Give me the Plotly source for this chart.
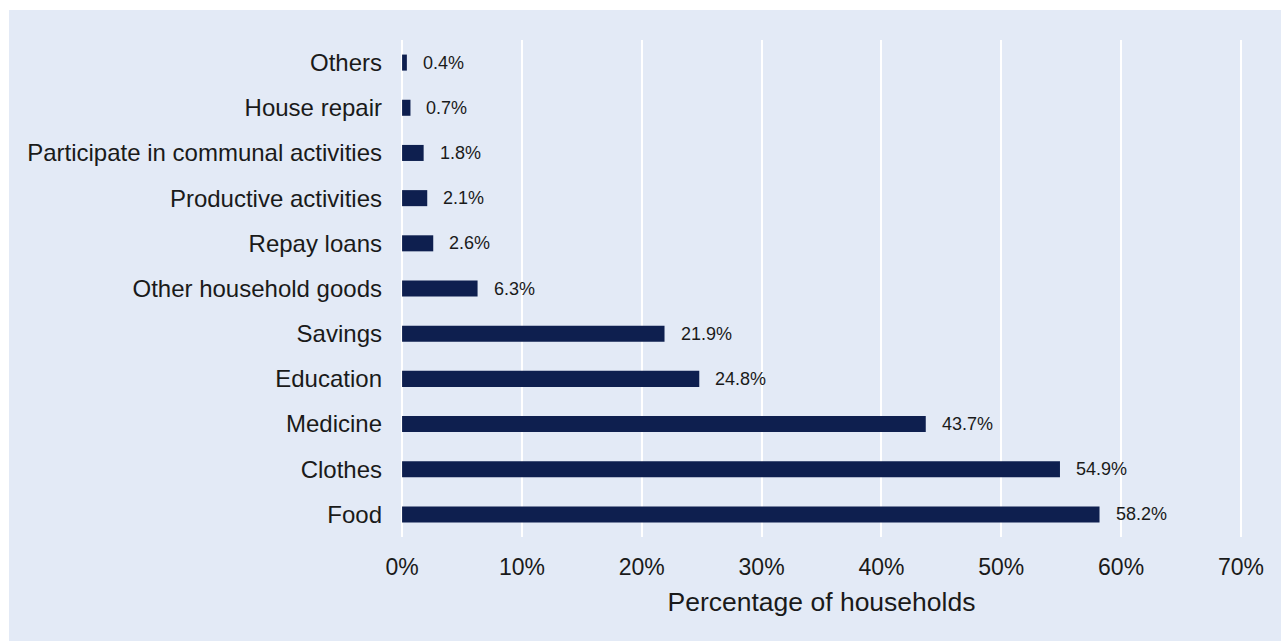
import plotly.graph_objects as go

categories = ["Food", "Clothes", "Medicine", "Education", "Savings",
              "Other household goods", "Repay loans", "Productive activities",
              "Participate in communal activities", "House repair", "Others"]
values = [58.2, 54.9, 43.7, 24.8, 21.9, 6.3, 2.6, 2.1, 1.8, 0.7, 0.4]
labels = [f"{v:.1f}%" for v in values]
x_ticks = [0, 10, 20, 30, 40, 50, 60, 70]
x_tick_text = [f"{t}%" for t in x_ticks]

BG = "#E3EAF6"
BAR = "#0E1F4F"
FONT = "Liberation Sans, Arial, sans-serif"

W, H = 1281, 641
L, R, T, B = 401, 39, 40, 104
pw, ph = W - L - R, H - T - B

fig = go.Figure()
fig.add_trace(go.Bar(
    y=categories, x=values, orientation="h",
    marker=dict(color=BAR, line=dict(width=0)),
    width=0.355, hoverinfo="skip",
))

for c, v, t in zip(categories, values, labels):
    fig.add_annotation(x=v, y=c, text=t, showarrow=False, xanchor="left",
                       yanchor="middle", xshift=14,
                       font=dict(family=FONT, size=18, color="#1a1a1a"))

# outer panel
fig.add_shape(type="rect", xref="paper", yref="paper", layer="below",
              x0=(9 - L) / pw, x1=(W - L) / pw,
              y0=(T + ph - H) / ph, y1=(T + ph - 10) / ph,
              fillcolor=BG, line=dict(width=0))

fig.update_layout(
    width=W, height=H,
    margin=dict(l=L, r=R, t=T, b=B, pad=0),
    paper_bgcolor="white", plot_bgcolor=BG,
    showlegend=False,
    font=dict(family=FONT, color="#1a1a1a"),
    xaxis=dict(range=[-0.09, 70.09], tickvals=x_ticks, ticktext=x_tick_text,
               showgrid=True, gridcolor="white", gridwidth=2,
               zeroline=False, showline=False, ticks="",
               ticklabelstandoff=14,
               tickfont=dict(size=23, family=FONT, color="#1a1a1a"),
               title=dict(text="Percentage of households", standoff=13,
                          font=dict(size=26.5, family=FONT, color="#1a1a1a"))),
    yaxis=dict(categoryorder="array", categoryarray=categories,
               range=[-0.5, 10.5], showgrid=False, zeroline=False,
               showline=False, ticks="", ticklabelstandoff=18,
               tickfont=dict(size=24, family=FONT, color="#1a1a1a")),
)

fig.write_html("out.html")
